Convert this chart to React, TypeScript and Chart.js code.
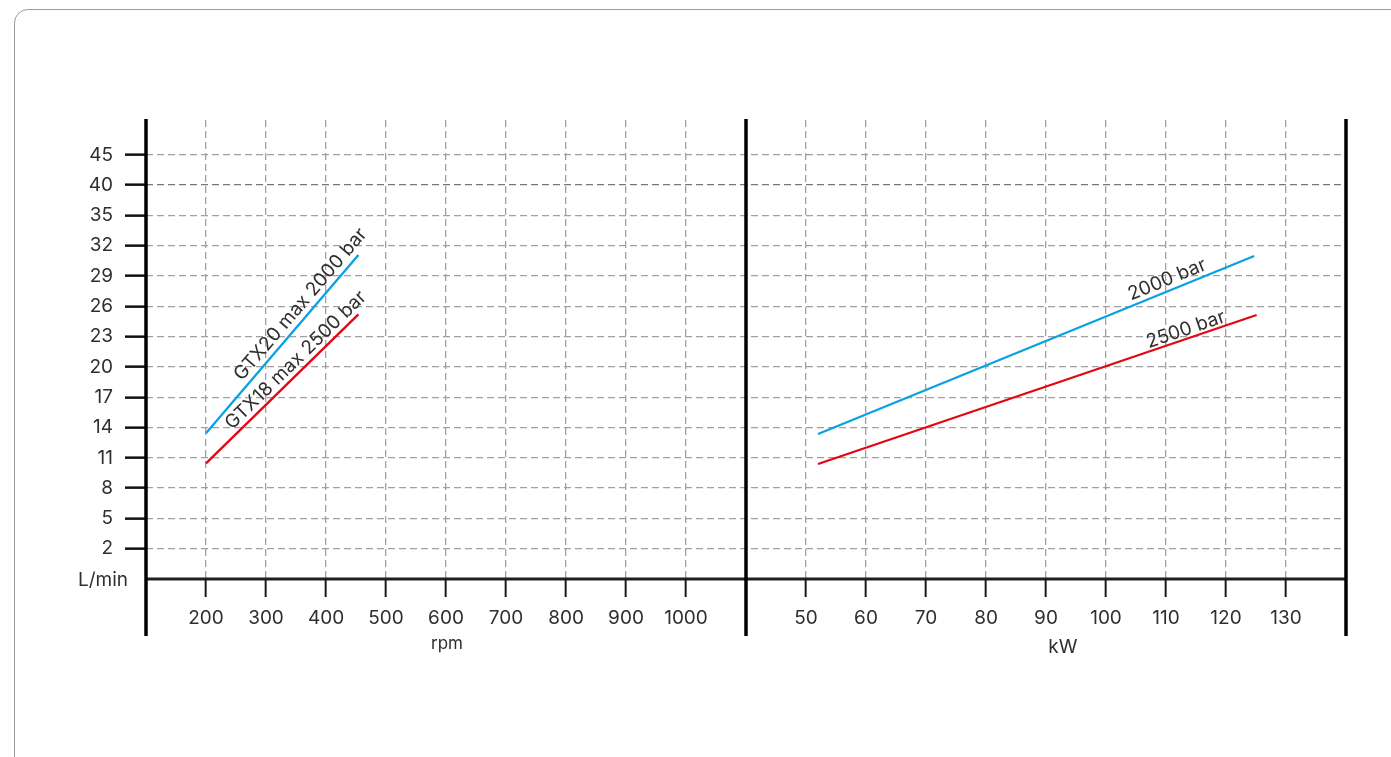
import React, { useEffect, useRef } from 'react';
import { Chart, registerables } from 'chart.js';

Chart.register(...registerables);

// ---- data ----
const rpmTicks = [200, 300, 400, 500, 600, 700, 800, 900, 1000];
const kwTicks = [50, 60, 70, 80, 90, 100, 110, 120, 130];
const flowTicks = [2, 5, 8, 11, 14, 17, 20, 23, 26, 29, 32, 35, 40, 45];
const yBaseLabel = 'L/min';

const gtx20Rpm = [200, 454];
const gtx20Flow = [13.43, 31.08];
const gtx18Rpm = [200, 454];
const gtx18Flow = [10.45, 25.21];

const bar2000Kw = [52, 124.7];
const bar2000Flow = [13.36, 30.98];
const bar2500Kw = [52, 125.1];
const bar2500Flow = [10.39, 25.14];

const seriesLabels = ['GTX20 max 2000 bar', 'GTX18 max 2500 bar', '2000 bar', '2500 bar'];

const BLUE = '#0aa0e4';
const RED = '#e30613';
const TEXT = '#332e2e';
const GRID = '#a0a0a0';
const FONT = 'Inter, "Noto Sans", sans-serif';

// index layout of the two panels on one shared axis
const RPM_START = 1;
const KW_START = 11;

function piecewise(v: number, values: number[], start: number): number {
  for (let i = 0; i < values.length - 1; i++) {
    if (v <= values[i + 1] || i === values.length - 2) {
      const f = (v - values[i]) / (values[i + 1] - values[i]);
      return start + i + f;
    }
  }
  return start;
}
const rpmX = (v: number) => piecewise(v, rpmTicks, RPM_START);
const kwX = (v: number) => piecewise(v, kwTicks, KW_START);
const flowY = (v: number) => piecewise(v, flowTicks, 1);

function pts(xs: number[], ys: number[], fx: (v: number) => number) {
  return xs.map((x, i) => ({ x: fx(x), y: flowY(ys[i]) }));
}

const xTickIdx = [
  ...rpmTicks.map((_, i) => RPM_START + i),
  ...kwTicks.map((_, i) => KW_START + i),
];
function xLabel(idx: number): string {
  const r = Math.round(idx);
  if (r >= RPM_START && r < RPM_START + rpmTicks.length) return String(rpmTicks[r - RPM_START]);
  if (r >= KW_START && r < KW_START + kwTicks.length) return String(kwTicks[r - KW_START]);
  return '';
}
const yTickIdx = [0, ...flowTicks.map((_, i) => i + 1)];

// label placement along each line: fraction along line, perpendicular offset
const labelPlace = [
  { t: 0.68, off: 12 },
  { t: 0.64, off: 11 },
  { t: 0.81, off: 11 },
  { t: 0.845, off: 9 },
];

const overlay = {
  id: 'overlay',
  beforeDatasetsDraw(chart: any) {
    const { ctx, chartArea } = chart;
    const x = chart.scales.x;
    const y = chart.scales.y;
    const y0 = y.getPixelForValue(0);
    ctx.save();
    ctx.setLineDash([]);
    ctx.strokeStyle = '#231f20';
    ctx.lineWidth = 3;
    ctx.beginPath();
    ctx.moveTo(x.getPixelForValue(0), y0);
    ctx.lineTo(x.getPixelForValue(20), y0);
    ctx.stroke();
    ctx.strokeStyle = '#000';
    ctx.lineWidth = 3.5;
    for (const v of [0, 10, 20]) {
      const px = x.getPixelForValue(v);
      ctx.beginPath();
      ctx.moveTo(px, chartArea.top - 1);
      ctx.lineTo(px, y0 + 57);
      ctx.stroke();
    }
    ctx.fillStyle = TEXT;
    ctx.textBaseline = 'middle';
    ctx.font = `19px ${FONT}`;
    ctx.textAlign = 'right';
    ctx.fillText(yBaseLabel, x.getPixelForValue(0) - 18, y0 + 1);
    ctx.textAlign = 'center';
    ctx.font = `17px ${FONT}`;
    ctx.fillText('rpm', x.getPixelForValue(5) + 1, y0 + 65);
    ctx.font = `19px ${FONT}`;
    ctx.fillText('kW', x.getPixelForValue(15.28), y0 + 68);
    ctx.restore();
  },
  afterDatasetsDraw(chart: any) {
    const { ctx } = chart;
    ctx.save();
    ctx.fillStyle = TEXT;
    ctx.font = `19px ${FONT}`;
    ctx.textAlign = 'center';
    ctx.textBaseline = 'middle';
    chart.data.datasets.forEach((ds: any, i: number) => {
      const meta = chart.getDatasetMeta(i);
      const p0 = meta.data[0];
      const p1 = meta.data[meta.data.length - 1];
      const dx = p1.x - p0.x;
      const dy = p1.y - p0.y;
      const len = Math.hypot(dx, dy);
      const nx = dy / len;
      const ny = -dx / len;
      const { t, off } = labelPlace[i];
      const cx = p0.x + dx * t + nx * off;
      const cy = p0.y + dy * t + ny * off;
      ctx.save();
      ctx.translate(cx, cy);
      ctx.rotate(Math.atan2(dy, dx));
      ctx.fillText(seriesLabels[i], 0, 0);
      ctx.restore();
    });
    ctx.restore();
  },
};

export default function App() {
  const ref = useRef<HTMLCanvasElement>(null);
  useEffect(() => {
    if (!ref.current) return;
    const mk = (data: any[], color: string, label: string) => ({
      label,
      data,
      borderColor: color,
      backgroundColor: color,
      borderWidth: 2.3,
      pointRadius: 0,
      showLine: true,
      fill: false,
      tension: 0,
    });
    const chart = new Chart(ref.current, {
      type: 'scatter',
      data: {
        datasets: [
          mk(pts(gtx20Rpm, gtx20Flow, rpmX), BLUE, seriesLabels[0]),
          mk(pts(gtx18Rpm, gtx18Flow, rpmX), RED, seriesLabels[1]),
          mk(pts(bar2000Kw, bar2000Flow, kwX), BLUE, seriesLabels[2]),
          mk(pts(bar2500Kw, bar2500Flow, kwX), RED, seriesLabels[3]),
        ],
      },
      options: {
        responsive: false,
        animation: false,
        events: [],
        layout: { padding: { left: 46, top: 120, right: 45, bottom: 78 } },
        plugins: { legend: { display: false }, tooltip: { enabled: false } },
        scales: {
          x: {
            type: 'linear',
            min: 0,
            max: 20,
            afterBuildTicks: (s: any) => {
              s.ticks = xTickIdx.map((v) => ({ value: v }));
            },
            afterFit: (s: any) => {
              s.height = 100;
            },
            ticks: {
              callback: (v: any) => xLabel(Number(v)),
              font: { family: FONT, size: 19 },
              color: TEXT,
              padding: 10,
              maxRotation: 0,
              autoSkip: false,
            },
            grid: {
              color: GRID,
              lineWidth: 1.3,
              tickColor: '#1a1a1a',
              tickWidth: 2,
              tickLength: 18,
              tickBorderDash: [],
              borderDash: [7, 4],
            } as any,
            border: { display: false, dash: [7, 4] },
          },
          y: {
            type: 'linear',
            min: 0,
            max: 15.15,
            afterBuildTicks: (s: any) => {
              s.ticks = yTickIdx.map((v) => ({ value: v }));
            },
            afterFit: (s: any) => {
              s.width = 100;
            },
            ticks: {
              callback: (v: any) => {
                const i = Math.round(Number(v));
                return i === 0 ? '' : String(flowTicks[i - 1]);
              },
              font: { family: FONT, size: 19 },
              color: TEXT,
              padding: 12,
              autoSkip: false,
            },
            grid: {
              color: (c: any) =>
                c.tick && c.tick.value === 0 ? 'rgba(0,0,0,0)' : c.tick && c.tick.value === 13 ? '#777' : GRID,
              lineWidth: 1.3,
              tickColor: (c: any) => (c.tick && c.tick.value === 0 ? 'rgba(0,0,0,0)' : '#111'),
              tickWidth: 2.5,
              tickLength: 21,
              tickBorderDash: [],
              borderDash: [7, 4],
            } as any,
            border: { display: false, dash: [7, 4] },
          },
        },
      } as any,
      plugins: [overlay],
    });
    return () => chart.destroy();
  }, []);

  return (
    <div
      style={{
        position: 'absolute',
        left: 0,
        top: 0,
        width: 1391,
        height: 757,
        overflow: 'hidden',
        background: '#fff',
      }}
    >
      <div
        style={{
          position: 'absolute',
          left: 14,
          top: 9,
          width: 1420,
          height: 770,
          border: '1.5px solid #9a9a9a',
          borderRadius: 14,
          boxSizing: 'border-box',
        }}
      />
      <canvas
        ref={ref}
        width={1391}
        height={757}
        style={{ position: 'absolute', left: 0, top: 0, width: 1391, height: 757 }}
      />
    </div>
  );
}
